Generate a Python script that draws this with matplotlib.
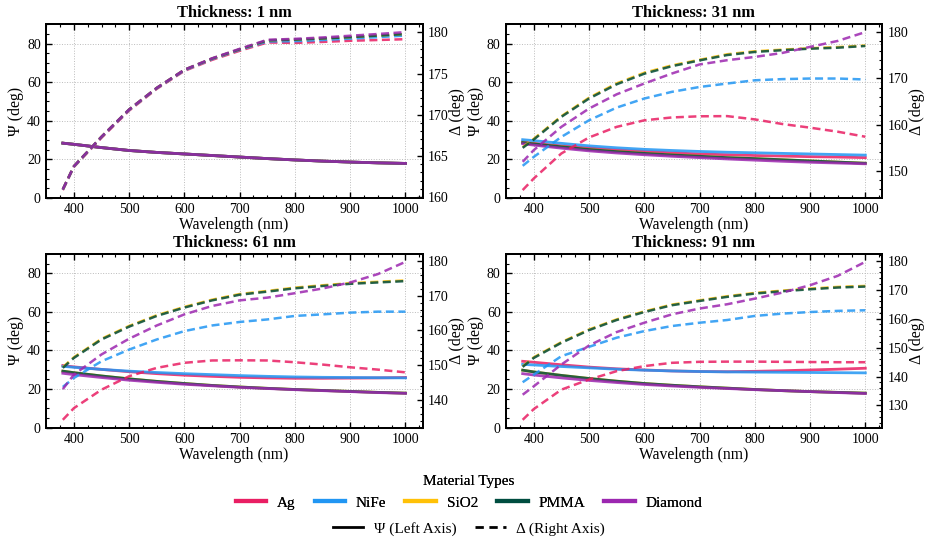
"""
Psi / Delta ellipsometry curves for four film thicknesses.
"""

import matplotlib
matplotlib.use("Agg")
import matplotlib.pyplot as plt
from matplotlib.lines import Line2D
from matplotlib.ticker import AutoMinorLocator, MultipleLocator

plt.rcParams["font.family"] = ["Liberation Serif", "DejaVu Serif"]

wavelengths = [380, 400, 450, 500, 550, 600, 650, 700, 750, 800, 850, 900, 950, 1000]
materials = ["Ag", "NiFe", "SiO2", "PMMA", "Diamond"]
thicknesses = [1, 31, 61, 91]

COLORS = {"Ag": "#E91E63", "NiFe": "#2196F3", "SiO2": "#FFC107",
          "PMMA": "#004D40", "Diamond": "#9C27B0"}

# --- 1 nm ---
psi_thin = [28.4, 27.8, 26.1, 24.6, 23.6, 22.8, 22.0, 21.2, 20.4, 19.7, 19.1, 18.6, 18.2, 17.9]
psi_t1 = {m: psi_thin for m in materials}
delta_t1 = {
    "Ag":      [160.85, 163.65, 167.20, 170.50, 173.14, 175.32, 176.66, 177.76, 178.77, 178.72, 178.84, 178.98, 179.07, 179.17],
    "NiFe":    [160.90, 163.70, 167.28, 170.58, 173.21, 175.39, 176.75, 177.88, 178.89, 178.93, 179.07, 179.24, 179.42, 179.61],
    "SiO2":    [160.95, 163.75, 167.33, 170.64, 173.26, 175.46, 176.82, 177.95, 179.03, 179.12, 179.26, 179.42, 179.61, 179.80],
    "PMMA":    [160.95, 163.75, 167.33, 170.64, 173.26, 175.46, 176.82, 177.95, 179.03, 179.12, 179.26, 179.42, 179.61, 179.80],
    "Diamond": [160.95, 163.75, 167.33, 170.64, 173.26, 175.46, 176.85, 178.00, 179.10, 179.21, 179.38, 179.59, 179.80, 180.03],
}

# --- 31 nm ---
psi_t31 = {
    "Ag":      [29.0, 28.3, 27.0, 25.9, 24.9, 24.1, 23.4, 22.8, 22.4, 22.0, 21.7, 21.4, 21.2, 20.9],
    "NiFe":    [30.2, 29.7, 28.3, 27.0, 26.0, 25.2, 24.6, 24.1, 23.7, 23.4, 23.1, 22.8, 22.5, 22.2],
    "SiO2":    [28.7, 28.0, 26.5, 25.1, 24.0, 23.1, 22.3, 21.6, 20.9, 20.4, 19.8, 19.2, 18.6, 18.0],
    "PMMA":    [28.7, 28.0, 26.5, 25.1, 24.0, 23.1, 22.3, 21.6, 20.9, 20.4, 19.8, 19.2, 18.6, 18.0],
    "Diamond": [28.1, 27.4, 25.8, 24.4, 23.3, 22.4, 21.6, 20.9, 20.2, 19.6, 19.0, 18.5, 18.1, 17.7],
}
delta_t31 = {
    "Ag":      [145.82, 148.32, 153.74, 157.20, 159.49, 160.91, 161.53, 161.78, 161.82, 161.11, 160.11, 159.32, 158.45, 157.36],
    "NiFe":    [151.07, 152.99, 157.32, 160.91, 163.66, 165.62, 167.07, 168.12, 168.87, 169.57, 169.82, 169.95, 169.95, 169.74],
    "SiO2":    [155.10, 156.90, 161.80, 165.80, 168.90, 171.20, 172.80, 174.00, 175.20, 175.85, 176.20, 176.50, 176.75, 177.10],
    "PMMA":    [154.95, 156.74, 161.66, 165.62, 168.70, 170.99, 172.62, 173.87, 175.03, 175.70, 176.08, 176.41, 176.62, 176.99],
    "Diamond": [151.94, 154.45, 159.49, 163.45, 166.53, 168.87, 171.03, 172.99, 173.91, 174.62, 175.49, 176.79, 178.08, 179.99],
}

# --- 61 nm ---
psi_t61 = {
    "Ag":      [32.2, 31.5, 30.2, 29.0, 28.0, 27.2, 26.6, 26.1, 25.8, 25.6, 25.6, 25.7, 25.8, 26.0],
    "NiFe":    [31.8, 31.3, 30.2, 29.3, 28.6, 28.0, 27.5, 27.0, 26.6, 26.3, 26.1, 26.0, 25.9, 25.8],
    "SiO2":    [29.3, 28.5, 26.8, 25.3, 24.0, 22.9, 21.9, 21.1, 20.4, 19.8, 19.3, 18.8, 18.3, 17.9],
    "PMMA":    [29.3, 28.5, 26.8, 25.3, 24.0, 22.9, 21.9, 21.1, 20.4, 19.8, 19.3, 18.8, 18.3, 17.9],
    "Diamond": [28.2, 27.5, 26.0, 24.6, 23.5, 22.5, 21.7, 20.9, 20.3, 19.7, 19.2, 18.7, 18.2, 17.8],
}
delta_t61 = {
    "Ag":      [134.23, 137.59, 142.91, 146.78, 149.19, 150.65, 151.32, 151.37, 151.32, 150.81, 150.14, 149.36, 148.69, 147.90],
    "NiFe":    [143.70, 146.28, 151.09, 154.46, 157.37, 159.78, 161.40, 162.41, 163.14, 164.15, 164.60, 165.10, 165.38, 165.38],
    "SiO2":    [149.40, 152.25, 157.57, 161.27, 164.35, 166.76, 168.83, 170.46, 171.35, 172.31, 172.98, 173.60, 173.99, 174.38],
    "PMMA":    [149.19, 152.05, 157.37, 161.07, 164.15, 166.56, 168.63, 170.26, 171.15, 172.11, 172.78, 173.40, 173.79, 174.18],
    "Diamond": [143.08, 147.23, 153.06, 157.59, 161.40, 164.60, 167.01, 168.63, 169.42, 170.70, 172.05, 173.79, 176.20, 179.73],
}

# --- 91 nm ---
psi_t91 = {
    "Ag":      [34.4, 33.9, 32.6, 31.4, 30.5, 29.9, 29.4, 29.1, 29.0, 29.2, 29.5, 29.9, 30.3, 30.8],
    "NiFe":    [32.8, 32.5, 31.7, 31.0, 30.3, 29.8, 29.4, 29.1, 28.9, 28.8, 28.7, 28.6, 28.5, 28.4],
    "SiO2":    [29.8, 28.9, 27.1, 25.5, 24.1, 22.9, 22.0, 21.2, 20.5, 19.8, 19.2, 18.7, 18.3, 17.9],
    "PMMA":    [29.8, 28.9, 27.1, 25.5, 24.1, 22.9, 22.0, 21.2, 20.5, 19.8, 19.2, 18.7, 18.3, 17.9],
    "Diamond": [28.0, 27.3, 25.8, 24.5, 23.4, 22.4, 21.6, 20.9, 20.3, 19.7, 19.2, 18.7, 18.2, 17.7],
}
delta_t91 = {
    "Ag":      [125.04, 128.74, 135.47, 138.97, 141.86, 143.61, 144.75, 145.09, 145.16, 145.16, 145.09, 145.02, 144.96, 144.96],
    "NiFe":    [138.03, 140.65, 147.04, 150.27, 153.43, 155.72, 157.47, 158.61, 159.55, 160.96, 161.77, 162.31, 162.71, 162.92],
    "SiO2":    [143.55, 146.65, 151.90, 156.27, 159.77, 162.53, 164.88, 166.36, 167.78, 168.92, 169.73, 170.40, 171.01, 171.34],
    "PMMA":    [143.34, 146.43, 151.68, 156.05, 159.55, 162.31, 164.66, 166.14, 167.56, 168.70, 169.51, 170.18, 170.79, 171.12],
    "Diamond": [133.72, 136.61, 144.15, 150.74, 155.38, 158.61, 161.50, 163.52, 165.00, 166.95, 169.04, 171.59, 174.82, 179.67],
}

psi_all = [psi_t1, psi_t31, psi_t61, psi_t91]
delta_all = [delta_t1, delta_t31, delta_t61, delta_t91]
delta_steps = [5, 10, 10, 10]


fig, axes = plt.subplots(2, 2, figsize=(9.25, 5.38), dpi=100)
fig.subplots_adjust(left=0.0494, right=0.954, top=0.955, bottom=0.205,
                    wspace=0.22, hspace=0.322)

for ax, t, psi, delta, step in zip(axes.flat, thicknesses, psi_all, delta_all, delta_steps):
    ax2 = ax.twinx()
    for m in materials:
        ax.plot(wavelengths, psi[m], color=COLORS[m], lw=2, alpha=0.85)
        ax2.plot(wavelengths, delta[m], color=COLORS[m], lw=1.8, alpha=0.85,
                 ls=(0, (3.2, 1.8)))

    ax.set_ylim(0, 90)
    ax.set_title(f"Thickness: {t} nm", fontsize=11.8, fontweight="bold", pad=5)
    ax.set_xlabel("Wavelength (nm)", fontsize=11.3, labelpad=1)
    ax.set_ylabel("Ψ (deg)", fontsize=11.3, labelpad=2)
    ax2.set_ylabel("Δ (deg)", fontsize=11.3, labelpad=0.5)
    ax.grid(True, ls=":", lw=0.7, color="#bbbbbb")
    ax.set_axisbelow(True)

    ax.xaxis.set_minor_locator(MultipleLocator(25))
    ax.yaxis.set_minor_locator(AutoMinorLocator())
    ax2.yaxis.set_major_locator(MultipleLocator(step))
    ax2.yaxis.set_minor_locator(AutoMinorLocator())
    ax.tick_params(which="both", direction="in", top=True, right=False, labelsize=10)
    ax.tick_params(which="major", length=4, width=1)
    ax.tick_params(which="minor", length=2.2, width=0.8)
    ax2.tick_params(which="both", direction="in", labelsize=10)
    ax2.tick_params(which="major", length=4, width=1)
    ax2.tick_params(which="minor", length=2.2, width=0.8)
    for sp in ax.spines.values():
        sp.set_linewidth(1.4)
    for sp in ax2.spines.values():
        sp.set_linewidth(1.4)

mat_handles = [Line2D([0], [0], color=COLORS[m], lw=3) for m in materials]
leg1 = fig.legend(mat_handles, materials, title="Material Types", loc="upper center",
                  bbox_to_anchor=(0.507, 0.128), ncol=5, frameon=False, fontsize=11,
                  title_fontsize=11, columnspacing=1.25, handlelength=2.0,
                  borderaxespad=0, handletextpad=0.7)
fig.add_artist(leg1)

style_handles = [Line2D([0], [0], color="black", lw=2),
                 Line2D([0], [0], color="black", lw=2, ls=(0, (3, 2)))]
fig.legend(style_handles, ["Ψ (Left Axis)", "Δ (Right Axis)"], loc="upper center",
           bbox_to_anchor=(0.507, 0.041), ncol=2, frameon=False, fontsize=11,
           columnspacing=1.2, handlelength=2.0, borderaxespad=0, handletextpad=0.7)

plt.savefig("out.png", dpi=100)
